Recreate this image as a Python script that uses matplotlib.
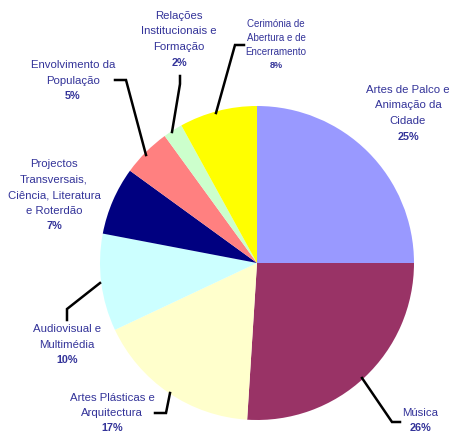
import matplotlib
matplotlib.use("Agg")
import matplotlib.pyplot as plt

plt.rcParams["font.family"] = ["Liberation Sans", "DejaVu Sans"]

W, H = 453, 432

categories = [
    "Artes de Palco e\nAnimação da\nCidade",
    "Música",
    "Artes Plásticas e\nArquitectura",
    "Audiovisual e\nMultimédia",
    "Projectos\nTransversais,\nCiência, Literatura\ne Roterdão",
    "Envolvimento da\nPopulação",
    "Relações\nInstitucionais e\nFormação",
    "Cerimónia de\nAbertura e de\nEncerramento",
]
shares = [25, 26, 17, 10, 7, 5, 2, 8]
colors = ["#9999FF", "#993366", "#FFFFCC", "#CCFFFF", "#000080",
          "#FF8080", "#CCFFCC", "#FFFF00"]

# label anchor (centre x, centre y of first line) in pixel coordinates
label_pos = [(408, 90), (420, 413), (112, 398), (67, 329),
             (54, 164), (73, 65), (179, 16), (276, 24)]
label_size = [8.2, 8.2, 8.2, 8.2, 8.2, 8.2, 8.2, 7.0]

# leader lines, pixel coordinates
leaders = [
    None,
    [(362, 378), (392, 422), (400, 422)],
    [(155, 413), (166, 413), (170, 393)],
    [(67, 320), (67, 309), (100, 283)],
    None,
    [(115, 80), (126, 80), (146, 155)],
    [(180, 76), (180, 84), (172, 132)],
    [(216, 113), (235, 45), (244, 45)],
]

TEXT = "#333399"

fig = plt.figure(figsize=(W / 100, H / 100), dpi=100)
ax = fig.add_axes([0, 0, 1, 1])

ax.pie(shares, colors=colors, startangle=90, counterclock=False,
       center=(257, H - 263), radius=157, frame=True,
       wedgeprops=dict(linewidth=0))
ax.set_xlim(0, W)
ax.set_ylim(0, H)
ax.set_aspect("equal")
ax.axis("off")

for name, pct, (x, y), fs, pts in zip(categories, shares, label_pos,
                                     label_size, leaders):
    n = name.count("\n") + 1
    step = 15.5 if fs > 7.5 else 14
    for i, line in enumerate(name.split("\n")):
        ax.text(x, H - (y + i * step), line, ha="center", va="center",
                fontsize=fs, color=TEXT)
    ax.text(x, H - min(y + n * step, 428), f"{pct}%", ha="center",
            va="center", fontsize=fs - 0.4, color=TEXT, fontweight="bold")
    if pts:
        ax.plot([p[0] for p in pts], [H - p[1] for p in pts],
                color="black", lw=1.8, solid_joinstyle="miter")

fig.savefig("out.png", dpi=100)
